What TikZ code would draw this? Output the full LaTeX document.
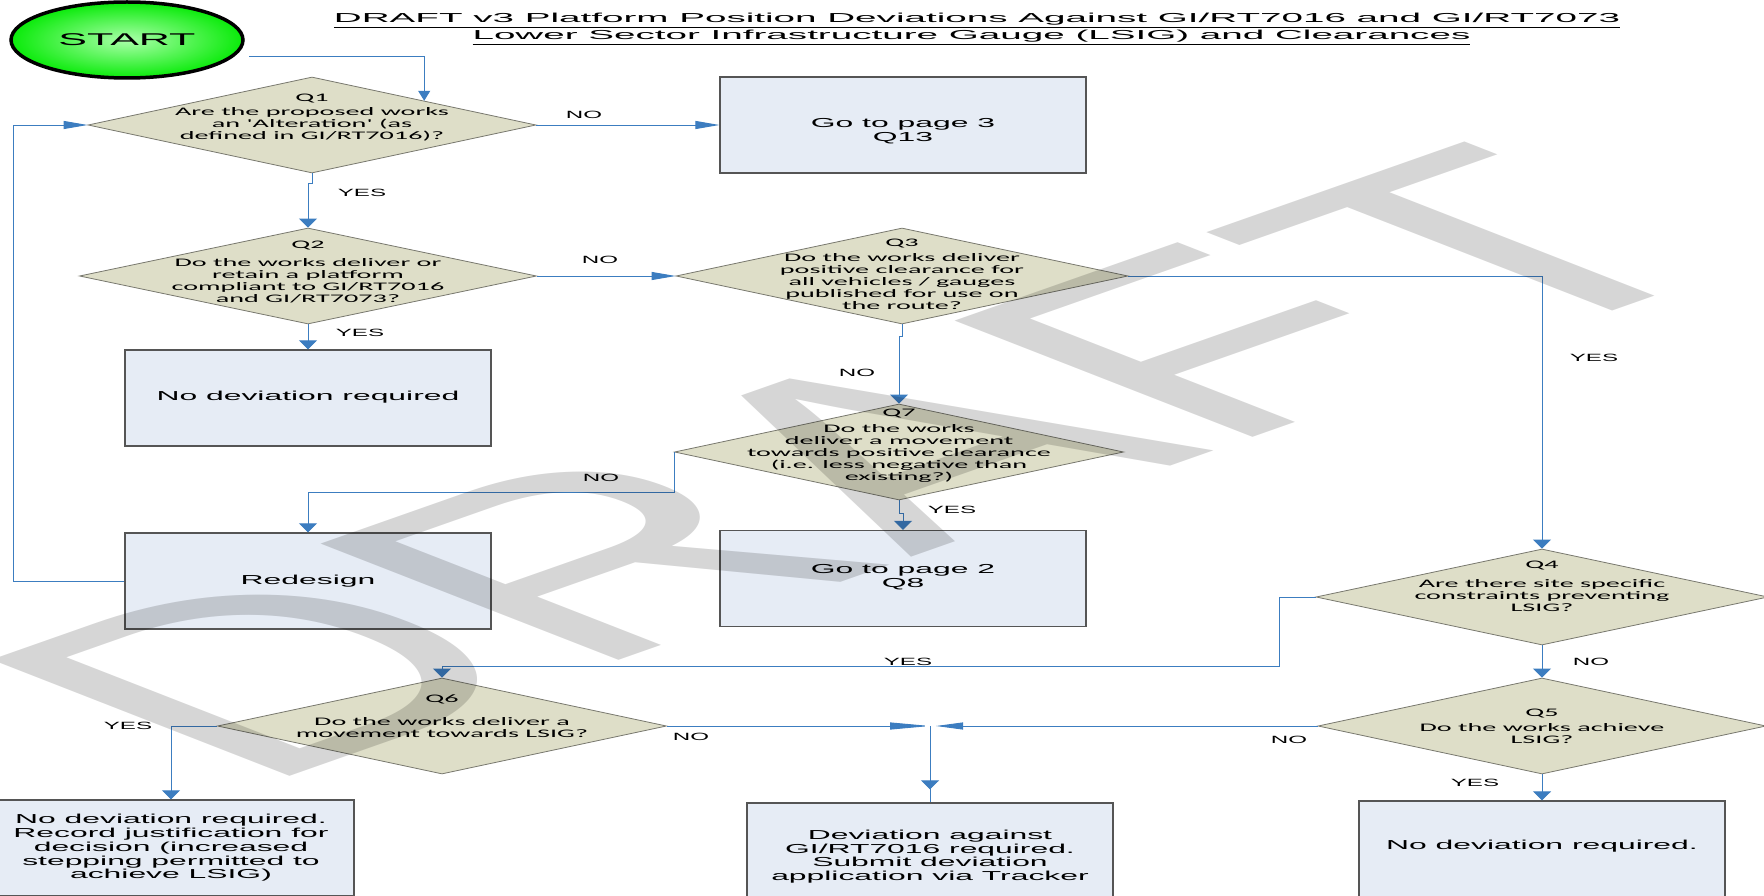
\documentclass[tikz,border=0pt]{standalone}
\usepackage{fontspec}
\setmainfont{Liberation Sans}
\newfontfamily\boxfont[FakeStretch=2.45]{Liberation Sans}
\newfontfamily\diafont[FakeStretch=2.45]{Carlito}
\newfontfamily\lblfont[FakeStretch=2.3]{Liberation Sans}
\newfontfamily\ttlfont[FakeStretch=2.97]{Liberation Sans}
\newfontfamily\stfont[FakeStretch=2.53]{Liberation Sans}
\newfontfamily\wmfont{Liberation Sans}
\usetikzlibrary{shapes.geometric,arrows.meta}
\definecolor{boxfill}{RGB}{230,236,245}
\definecolor{boxdraw}{RGB}{85,85,85}
\definecolor{diafill}{RGB}{222,222,200}
\definecolor{diadraw}{RGB}{120,120,110}
\definecolor{conncol}{RGB}{60,125,192}
\definecolor{stinner}{RGB}{170,255,170}
\definecolor{stouter}{RGB}{10,235,10}
\begin{document}
\begin{tikzpicture}[x=1pt,y=-1pt,
  box/.style={draw=boxdraw, line width=1.2pt, fill=boxfill, minimum width=366pt, minimum height=96pt, inner sep=0pt},
  dia/.style={diamond, draw=diadraw, line width=0.8pt, fill=diafill, minimum width=450pt, minimum height=96pt, inner sep=0pt},
  btxt/.style={align=center, font=\boxfont\fontsize{13}{13.7}\selectfont, inner sep=0pt},
  dtxt/.style={align=center, font=\diafont\fontsize{11.5}{12}\selectfont, inner sep=0pt},
  lbl/.style={font=\lblfont\fontsize{10.5}{12}\selectfont, inner sep=0pt},
  ttl/.style={font=\ttlfont\fontsize{13}{17}\selectfont, inner sep=0pt},
  startnode/.style={ellipse, draw=black, line width=3.5pt, minimum width=232pt, minimum height=76pt, inner sep=0pt, inner color=stinner, outer color=stouter, font=\stfont\fontsize{17}{17}\selectfont},
  conn/.style={draw=conncol, line width=0.9pt},
  vt/.style={-{Triangle[length=9pt,width=18pt]}},
  ht/.style={-{Triangle[length=24pt,width=8pt]}},
  wm/.style={font=\wmfont\fontsize{233}{233}\selectfont, text=black, text opacity=0.16, inner sep=0pt, outer sep=0pt, xscale=2.7, rotate=43.5}
]
\useasboundingbox (0,0) rectangle (1764,896);
\fill[white] (0,0) rectangle (1764,896);

% title
\node[ttl, anchor=base] (title1) at (977,22.7) {\underline{DRAFT v3 Platform Position Deviations Against GI/RT7016 and GI/RT7073}};
\node[ttl, anchor=base] (title2) at (971.5,40) {\underline{Lower Sector Infrastructure Gauge (LSIG) and Clearances}};

% start
\node[startnode] (start) at (127,40) {START};
\coordinate (s0) at (249,56);

% decisions
\node[dia, minimum width=448pt] (q1) at (312,125) {};
\node[dia, minimum width=457pt] (q2) at (308,276) {};
\node[dia, minimum width=452pt] (q3) at (902,276) {};
\node[dia, minimum width=449pt] (q7) at (899,452) {};
\node[dia, minimum width=452pt] (q4) at (1542,597) {};
\node[dia, minimum width=448pt] (q5) at (1542,726) {};
\node[dia, minimum width=449pt] (q6) at (442,726) {};

\node[dtxt] (q1t) at (312,118) {Q1\\[2pt]Are the proposed works\\an 'Alteration' (as\\defined in GI/RT7016)?};
\node[dtxt] (q2t) at (308,272.5) {Q2\\[6pt]Do the works deliver or\\retain a platform\\compliant to GI/RT7016\\and GI/RT7073?};
\node[dtxt] (q3t) at (902,274) {Q3\\[3pt]Do the works deliver\\positive clearance for\\all vehicles / gauges\\published for use on\\the route?};
\node[dtxt] (q7t) at (899,445.5) {Q7\\[4pt]Do the works\\deliver a movement\\towards positive clearance\\(i.e. less negative than\\existing?)};
\node[dtxt] (q4t) at (1542,586.5) {Q4\\[7pt]Are there site specific\\constraints preventing\\LSIG?};
\node[dtxt] (q5t) at (1542,726) {Q5\\[3pt]Do the works achieve\\LSIG?};
\node[dtxt] (q6t) at (442,716) {Q6\\[11pt]Do the works deliver a\\movement towards LSIG?};

% boxes
\node[box] (go3) at (903,125) {};
\node[btxt] (go3t) at (903,131) {Go to page 3\\Q13};
\node[box] (nd1) at (308,398) {};
\node[btxt] (nd1t) at (308,397) {No deviation required};
\node[box] (redesign) at (308,581) {};
\node[btxt] (redesignt) at (308,581) {Redesign};
\node[box] (go2) at (903,578.5) {};
\node[btxt] (go2t) at (903,577.5) {Go to page 2\\Q8};
\node[box] (nd2) at (171,848) {};
\node[btxt] (nd2t) at (171,848) {No deviation required.\\Record justification for\\decision (increased\\stepping permitted to\\achieve LSIG)};
\node[box] (dev) at (930,851) {};
\node[btxt] (devt) at (930,856.5) {Deviation against\\GI/RT7016 required.\\Submit deviation\\application via Tracker};
\node[box] (nd3) at (1542,849) {};
\node[btxt] (nd3t) at (1542,846) {No deviation required.};

% helper coordinates
\coordinate (fb) at (13,581);
\coordinate (c4) at (1279,666);
\coordinate (j) at (930,726);

% connectors
\draw[conn, -{Triangle[length=10pt,width=12pt]}] (s0) -| (q1.north east);
\draw[conn, ht] (q1.east) -- (go3.west);
\draw[conn, vt] (q1.south) -- ++(0,10) -| (q2.north);
\draw[conn, ht] (q2.east) -- (q3.west);
\draw[conn, vt] (q2.south) -- (nd1.north);
\draw[conn, vt] (q3.south) -- ++(0,12) -| (q7.north);
\draw[conn, vt] (q3.east) -| (q4.north);
\draw[conn, vt] (q7.west) -- ++(0,40) -| (redesign.north);
\draw[conn, vt] (q7.south) -- ++(0,13) -| (go2.north);
\draw[conn, ht] (redesign.west) -- (fb) |- (q1.west);
\draw[conn, vt] (q4.south) -- (q5.north);
\draw[conn, vt] (q4.west) -| (c4) -- (c4 -| q6.north) -- (q6.north);
\draw[conn, vt] (q5.south) -- (nd3.north);
\draw[conn, vt] (q6.west) -| (nd2.north);
\draw[conn, -{Triangle[length=40pt,width=7pt]}] (q6.east) -- (j);
\draw[conn, -{Triangle[length=27pt,width=7pt]}] (q5.west) -- ([xshift=6pt]j);
\draw[conn] (j) -- (dev.north);
\draw[conn, vt] (j) -- ([yshift=13pt]dev.north);

% labels
\node[lbl] (l1) at (362,193) {YES};
\node[lbl] (l2) at (584,115) {NO};
\node[lbl] (l3) at (600,260) {NO};
\node[lbl] (l4) at (360,333) {YES};
\node[lbl] (l5) at (857,373) {NO};
\node[lbl] (l6) at (1594,358) {YES};
\node[lbl] (l7) at (601,478) {NO};
\node[lbl] (l8) at (952,510) {YES};
\node[lbl] (l9) at (908,662) {YES};
\node[lbl] (l10) at (1591,662) {NO};
\node[lbl] (l11) at (1289,740) {NO};
\node[lbl] (l12) at (1475,783) {YES};
\node[lbl] (l13) at (128,726) {YES};
\node[lbl] (l14) at (691,737) {NO};

% watermark
\begin{scope}[shift={(252,789)}]
\node[wm, anchor=base west] (wm) at (0,0) {DRAFT};
\end{scope}
\end{tikzpicture}
\end{document}
